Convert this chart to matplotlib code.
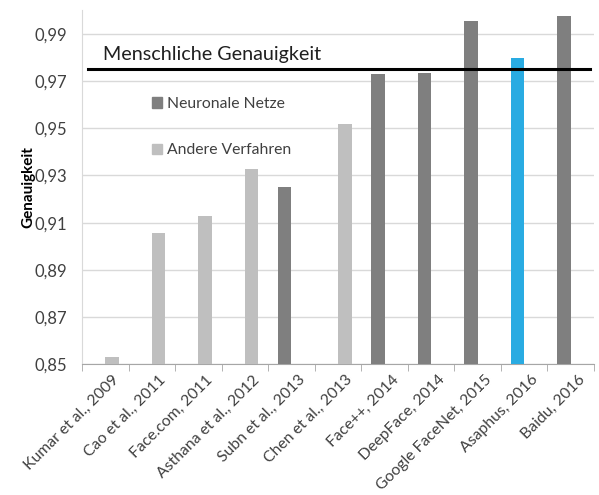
import numpy as np
import matplotlib
matplotlib.use("Agg")
import matplotlib.pyplot as plt
import matplotlib.transforms as mtransforms
from matplotlib.patches import Patch

plt.rcParams['font.family'] = ['Lato', 'DejaVu Sans']

categories = ["Kumar et al., 2009", "Cao et al., 2011", "Face.com, 2011",
              "Asthana et al., 2012", "Subn et al., 2013", "Chen et al., 2013",
              "Face++, 2014", "DeepFace, 2014", "Google FaceNet, 2015",
              "Asaphus, 2016", "Baidu, 2016"]
nan = np.nan
neural = [nan, nan, nan, nan, 0.9251, nan, 0.9728, 0.9733, 0.9953, 0.9798, 0.9974]
other = [0.853, 0.9057, 0.9127, 0.9329, nan, 0.9516, nan, nan, nan, nan, nan]
highlight = "Asaphus, 2016"
human = 0.9752
yticks = [0.85, 0.87, 0.89, 0.91, 0.93, 0.95, 0.97, 0.99]

dark = "#7f7f7f"
light = "#bfbfbf"
blue = "#29abe2"
txt = "#404040"

fig = plt.figure(figsize=(5.99, 4.95), dpi=100)
ax = fig.add_axes([0.1369, 0.2638, 0.8548, 0.716])

x = np.arange(len(categories))
w = 0.29
off = 0.145
ncolors = [blue if c == highlight else dark for c in categories]
ax.bar(x - off, np.nan_to_num(neural, nan=0), width=w, color=ncolors, zorder=3)
ax.bar(x + off, np.nan_to_num(other, nan=0), width=w, color=light, zorder=3)

ax.set_xlim(-0.5, len(categories) - 0.5)
ax.set_ylim(0.85, 1.0)
ax.set_yticks(yticks)
ax.set_yticklabels([f"{v:.2f}".replace(".", ",") for v in yticks], fontsize=12, color=txt)
ax.yaxis.grid(True, color="#d9d9d9", linewidth=1, zorder=0)
ax.tick_params(axis="y", length=0, pad=11)

ax.set_xticks(x)
ax.set_xticklabels(categories, rotation=45, ha="right", rotation_mode="anchor",
                   fontsize=11.3, color=txt)
ax.tick_params(axis="x", which="major", length=0, pad=6)
shift = mtransforms.ScaledTranslation(7 / 100, 0, fig.dpi_scale_trans)
for lab in ax.get_xticklabels():
    lab.set_transform(lab.get_transform() + shift)
ax.set_xticks(np.arange(len(categories) + 1) - 0.5, minor=True)
ax.tick_params(axis="x", which="minor", length=5, color="#a6a6a6", direction="out")

for s in ["top", "right"]:
    ax.spines[s].set_visible(False)
ax.spines["left"].set_color("#d9d9d9")
ax.spines["bottom"].set_color("#a6a6a6")

ax.axhline(human, xmin=0.012, xmax=0.992, color="black", linewidth=2.2, zorder=4)
ax.text(0.041, 0.9787, "Menschliche Genauigkeit", transform=ax.get_yaxis_transform(),
        fontsize=14.2, color="#202020", va="baseline", ha="left")

ax.set_ylabel("Genauigkeit", fontsize=11, fontweight="bold", labelpad=-1)

handles = [Patch(color=dark, label="Neuronale Netze"), Patch(color=light, label="Andere Verfahren")]
ax.legend(handles=handles, loc="upper left", bbox_to_anchor=(0.109, 0.794), frameon=False,
          fontsize=11.3, handlelength=0.65, handleheight=0.65, handletextpad=0.3,
          labelspacing=2.06, labelcolor=txt)

fig.savefig("out.png", dpi=100)
